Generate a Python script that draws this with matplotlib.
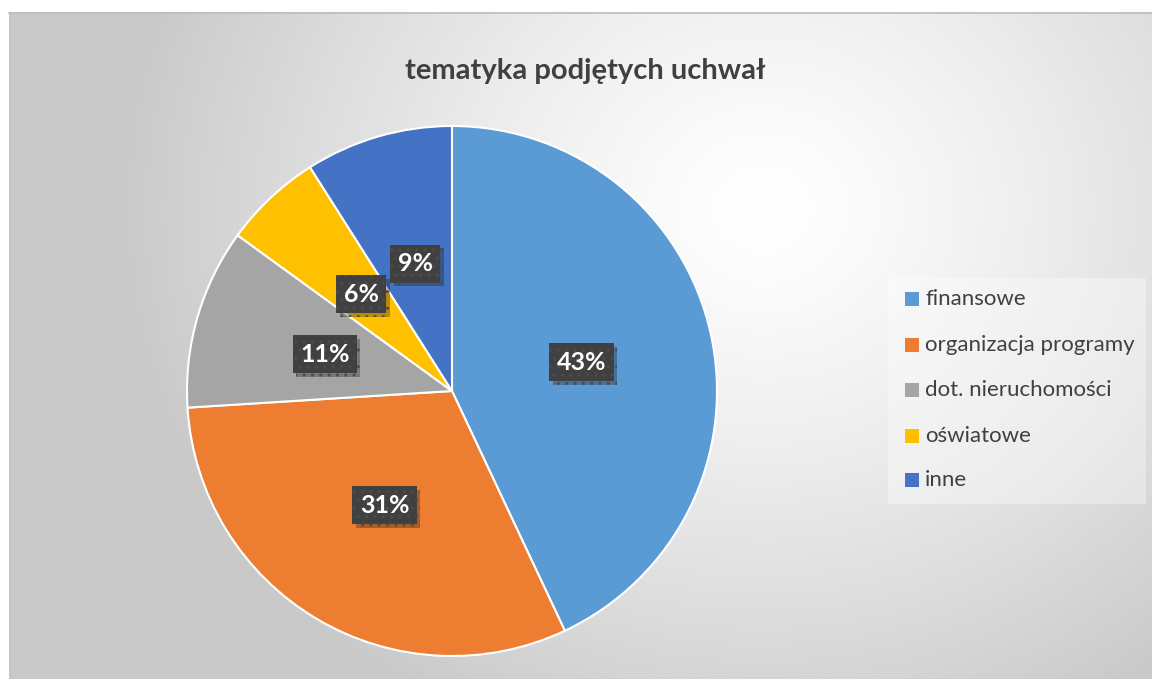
import numpy as np
import matplotlib
matplotlib.use("Agg")
import matplotlib.pyplot as plt
import matplotlib.patheffects as pe
from matplotlib.patches import Rectangle

# data
categories = ["finansowe", "organizacja programy", "dot. nieruchomości",
              "oświatowe", "inne"]
shares = [43, 31, 11, 6, 9]
colors = ["#5B9BD5", "#ED7D31", "#A5A5A5", "#FFC000", "#4472C4"]
title = "tematyka podjętych uchwał"

plt.rcParams["font.family"] = ["Lato", "DejaVu Sans"]
W, H = 1152, 679
fig = plt.figure(figsize=(W / 100, H / 100), dpi=100)

# background: radial gradient card
bg = fig.add_axes([0, 0, 1, 1])
bg.set_xlim(0, W)
bg.set_ylim(H, 0)
bg.axis("off")
yy, xx = np.mgrid[0:H, 0:W]
d = np.hypot((xx - 760) / 1.0, (yy - 200) / 0.9)
val = 1 - 0.21 * np.clip(d / 650, 0, 1) ** 1.3
img = np.dstack([val, val, val])
bg.imshow(img, extent=(9, W, H, 12), origin="upper", zorder=0)
bg.plot([9, W], [12.5, 12.5], color="#bdbdbd", lw=1.2, zorder=1)
bg.plot([9.5, 9.5], [12, H], color="#c4c4c4", lw=1.0, zorder=1)

# title
bg.text(585, 71, title, ha="center", va="center", fontsize=21,
        fontweight="bold", color="#404040", zorder=3)

# legend box
bg.add_patch(Rectangle((888, 278), 258, 226, fc="white", alpha=0.35,
                       ec="none", zorder=1))
leg_y = [299, 345, 390, 436, 480]
for cat, col, y in zip(categories, colors, leg_y):
    bg.add_patch(Rectangle((905, y - 7), 14, 14, fc=col, ec="none", zorder=3))
    bg.text(925, y, cat, ha="left", va="center", fontsize=16,
            color="#404040", zorder=3)

# pie
cx, cy, r = 452, 391, 265
ax = fig.add_axes([(cx - r) / W, (H - cy - r) / H, 2 * r / W, 2 * r / H])
wedges, _ = ax.pie(shares, colors=colors, startangle=90, counterclock=False,
                   radius=1, wedgeprops=dict(edgecolor="white", linewidth=1.5))
ax.set_xlim(-1, 1)
ax.set_ylim(-1, 1)
ax.axis("off")

total = sum(shares)
start = 90.0
for v in shares:
    ang = np.deg2rad(start - v / total * 360 / 2)
    start -= v / total * 360
    x, y = 0.5 * np.cos(ang), 0.5 * np.sin(ang)
    t = ax.text(x, y, f"{v}%", ha="center", va="center", fontsize=18,
                fontweight="bold", color="white",
                bbox=dict(boxstyle="square,pad=0.3", fc="#404040",
                          ec="#4c4c4c", lw=0, hatch=".."))
    t.get_bbox_patch().set_path_effects(
        [pe.SimplePatchShadow(offset=(2.5, -2.5), alpha=0.3), pe.Normal()])

fig.savefig("out.png", dpi=100)
